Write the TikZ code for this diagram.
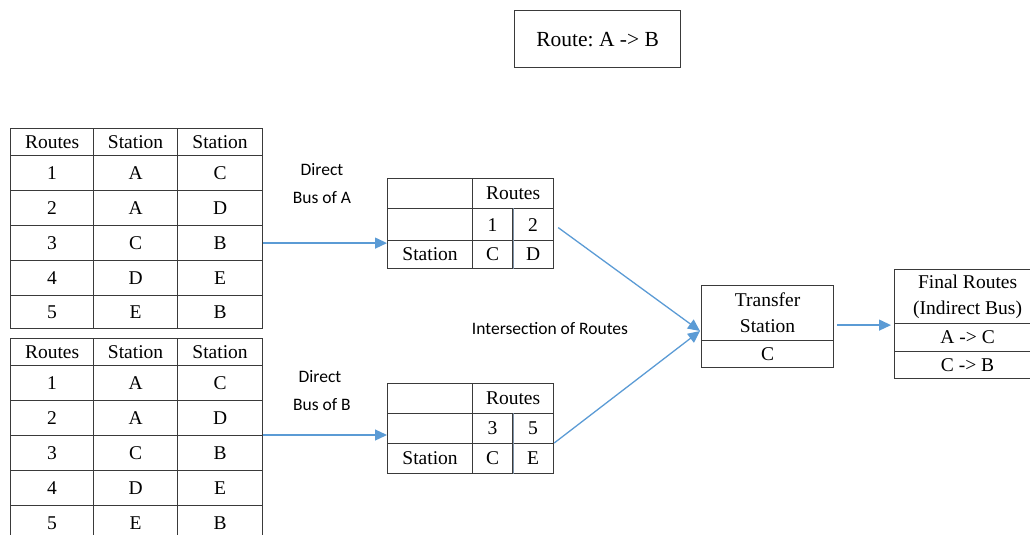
\documentclass[tikz,border=0pt]{standalone}
\usepackage{fontspec}
\setmainfont{Liberation Serif}
\newfontfamily\labfont{Carlito}
\usetikzlibrary{arrows.meta}
\definecolor{linec}{HTML}{3A3A3A}
\definecolor{arrc}{HTML}{5B9BD5}
\definecolor{divc}{HTML}{7F93A8}
\frenchspacing
\begin{document}
\begin{tikzpicture}[x=1pt,y=-1pt,
 cell/.style={draw=linec, line width=1.2pt, anchor=north west, inner sep=0pt, font=\fontsize{19.5}{22}\selectfont},
 conn/.style={draw=arrc, line width=1.3pt, -{Triangle[length=12pt,width=11pt]}},
 lab/.style={font=\labfont\fontsize{17.5}{19}\selectfont, align=center}]
\clip (0,0) rectangle (1030,535);
% route box
\node[cell, minimum width=166pt, minimum height=57pt, font=\fontsize{21.5}{24}\selectfont] (route) at (514,10) {Route: A -> B};
% table 1
\foreach \y/\h/\a/\b/\c [count=\i] in {128/27/Routes/Station/Station, 155/35/1/A/C, 190/35/2/A/D, 225/35/3/C/B, 260/35/4/D/E, 295/33/5/E/B}{
 \node[cell, minimum width=83pt, minimum height=\h pt] (t1-\i-1) at (10,\y) {\a};
 \node[cell, minimum width=84pt, minimum height=\h pt] (t1-\i-2) at (93,\y) {\b};
 \node[cell, minimum width=85pt, minimum height=\h pt] (t1-\i-3) at (177,\y) {\c};
}
% table 2
\foreach \y/\h/\a/\b/\c [count=\i] in {338/27/Routes/Station/Station, 365/35/1/A/C, 400/35/2/A/D, 435/35/3/C/B, 470/35/4/D/E, 505/35/5/E/B}{
 \node[cell, minimum width=83pt, minimum height=\h pt] (t2-\i-1) at (10,\y) {\a};
 \node[cell, minimum width=84pt, minimum height=\h pt] (t2-\i-2) at (93,\y) {\b};
 \node[cell, minimum width=85pt, minimum height=\h pt] (t2-\i-3) at (177,\y) {\c};
}
% table A
\node[cell, minimum width=85pt, minimum height=30pt] (a11) at (387,178) {};
\node[cell, minimum width=81pt, minimum height=30pt] (a12) at (472,178) {Routes};
\node[cell, minimum width=85pt, minimum height=32pt] (a21) at (387,208) {};
\node[cell, minimum width=40pt, minimum height=32pt] (a22) at (472,208) {1};
\node[cell, minimum width=41pt, minimum height=32pt] (a23) at (512,208) {2};
\node[cell, minimum width=85pt, minimum height=28pt] (a31) at (387,240) {Station};
\node[cell, minimum width=40pt, minimum height=28pt] (a32) at (472,240) {C};
\node[cell, minimum width=41pt, minimum height=28pt] (a33) at (512,240) {D};
\draw[divc, line width=1.2pt] (a22.north east) -- (a32.south east);
% table B
\node[cell, minimum width=85pt, minimum height=30pt] (b11) at (387,383) {};
\node[cell, minimum width=81pt, minimum height=30pt] (b12) at (472,383) {Routes};
\node[cell, minimum width=85pt, minimum height=30pt] (b21) at (387,413) {};
\node[cell, minimum width=40pt, minimum height=30pt] (b22) at (472,413) {3};
\node[cell, minimum width=41pt, minimum height=30pt] (b23) at (512,413) {5};
\node[cell, minimum width=85pt, minimum height=30pt] (b31) at (387,443) {Station};
\node[cell, minimum width=40pt, minimum height=30pt] (b32) at (472,443) {C};
\node[cell, minimum width=41pt, minimum height=30pt] (b33) at (512,443) {E};
\draw[divc, line width=1.2pt] (b22.north east) -- (b32.south east);
% transfer
\node[cell, minimum width=132pt, minimum height=55pt, align=center, font=\fontsize{19.5}{26}\selectfont] (ts) at (701,285) {Transfer\\Station};
\node[cell, minimum width=132pt, minimum height=27pt] (tc) at (701,340) {C};
% final
\node[cell, minimum width=146pt, minimum height=54pt, align=center, font=\fontsize{19.5}{26}\selectfont] (f1) at (894,269) {Final Routes\\(Indirect Bus)};
\node[cell, minimum width=146pt, minimum height=28pt] (f2) at (894,323) {A -> C};
\node[cell, minimum width=146pt, minimum height=27pt] (f3) at (894,351) {C -> B};
% labels
\node[lab] (la1) at (322,170) {Direct};
\node[lab] (la2) at (322,198) {Bus of A};
\node[lab] (lb1) at (320,377) {Direct};
\node[lab] (lb2) at (322,405) {Bus of B};
\node[lab] (ir) at (550,329) {Intersection of Routes};
% connectors
\coordinate (tin) at (700,331);
\coordinate (tout) at ([yshift=-12pt,xshift=3pt]ts.east);
\draw[conn] (t1-4-3.east) -- (t1-4-3.east -| a31.west);
\draw[conn] (t2-4-3.north east) -- (t2-4-3.north east -| b21.west);
\draw[conn] ([xshift=4pt,yshift=-3pt]a23.east) -- (tin);
\draw[conn] (b33.north east) -- (tin);
\draw[conn] (tout) -- ([xshift=-3pt]tout -| f1.west);
\end{tikzpicture}
\end{document}
